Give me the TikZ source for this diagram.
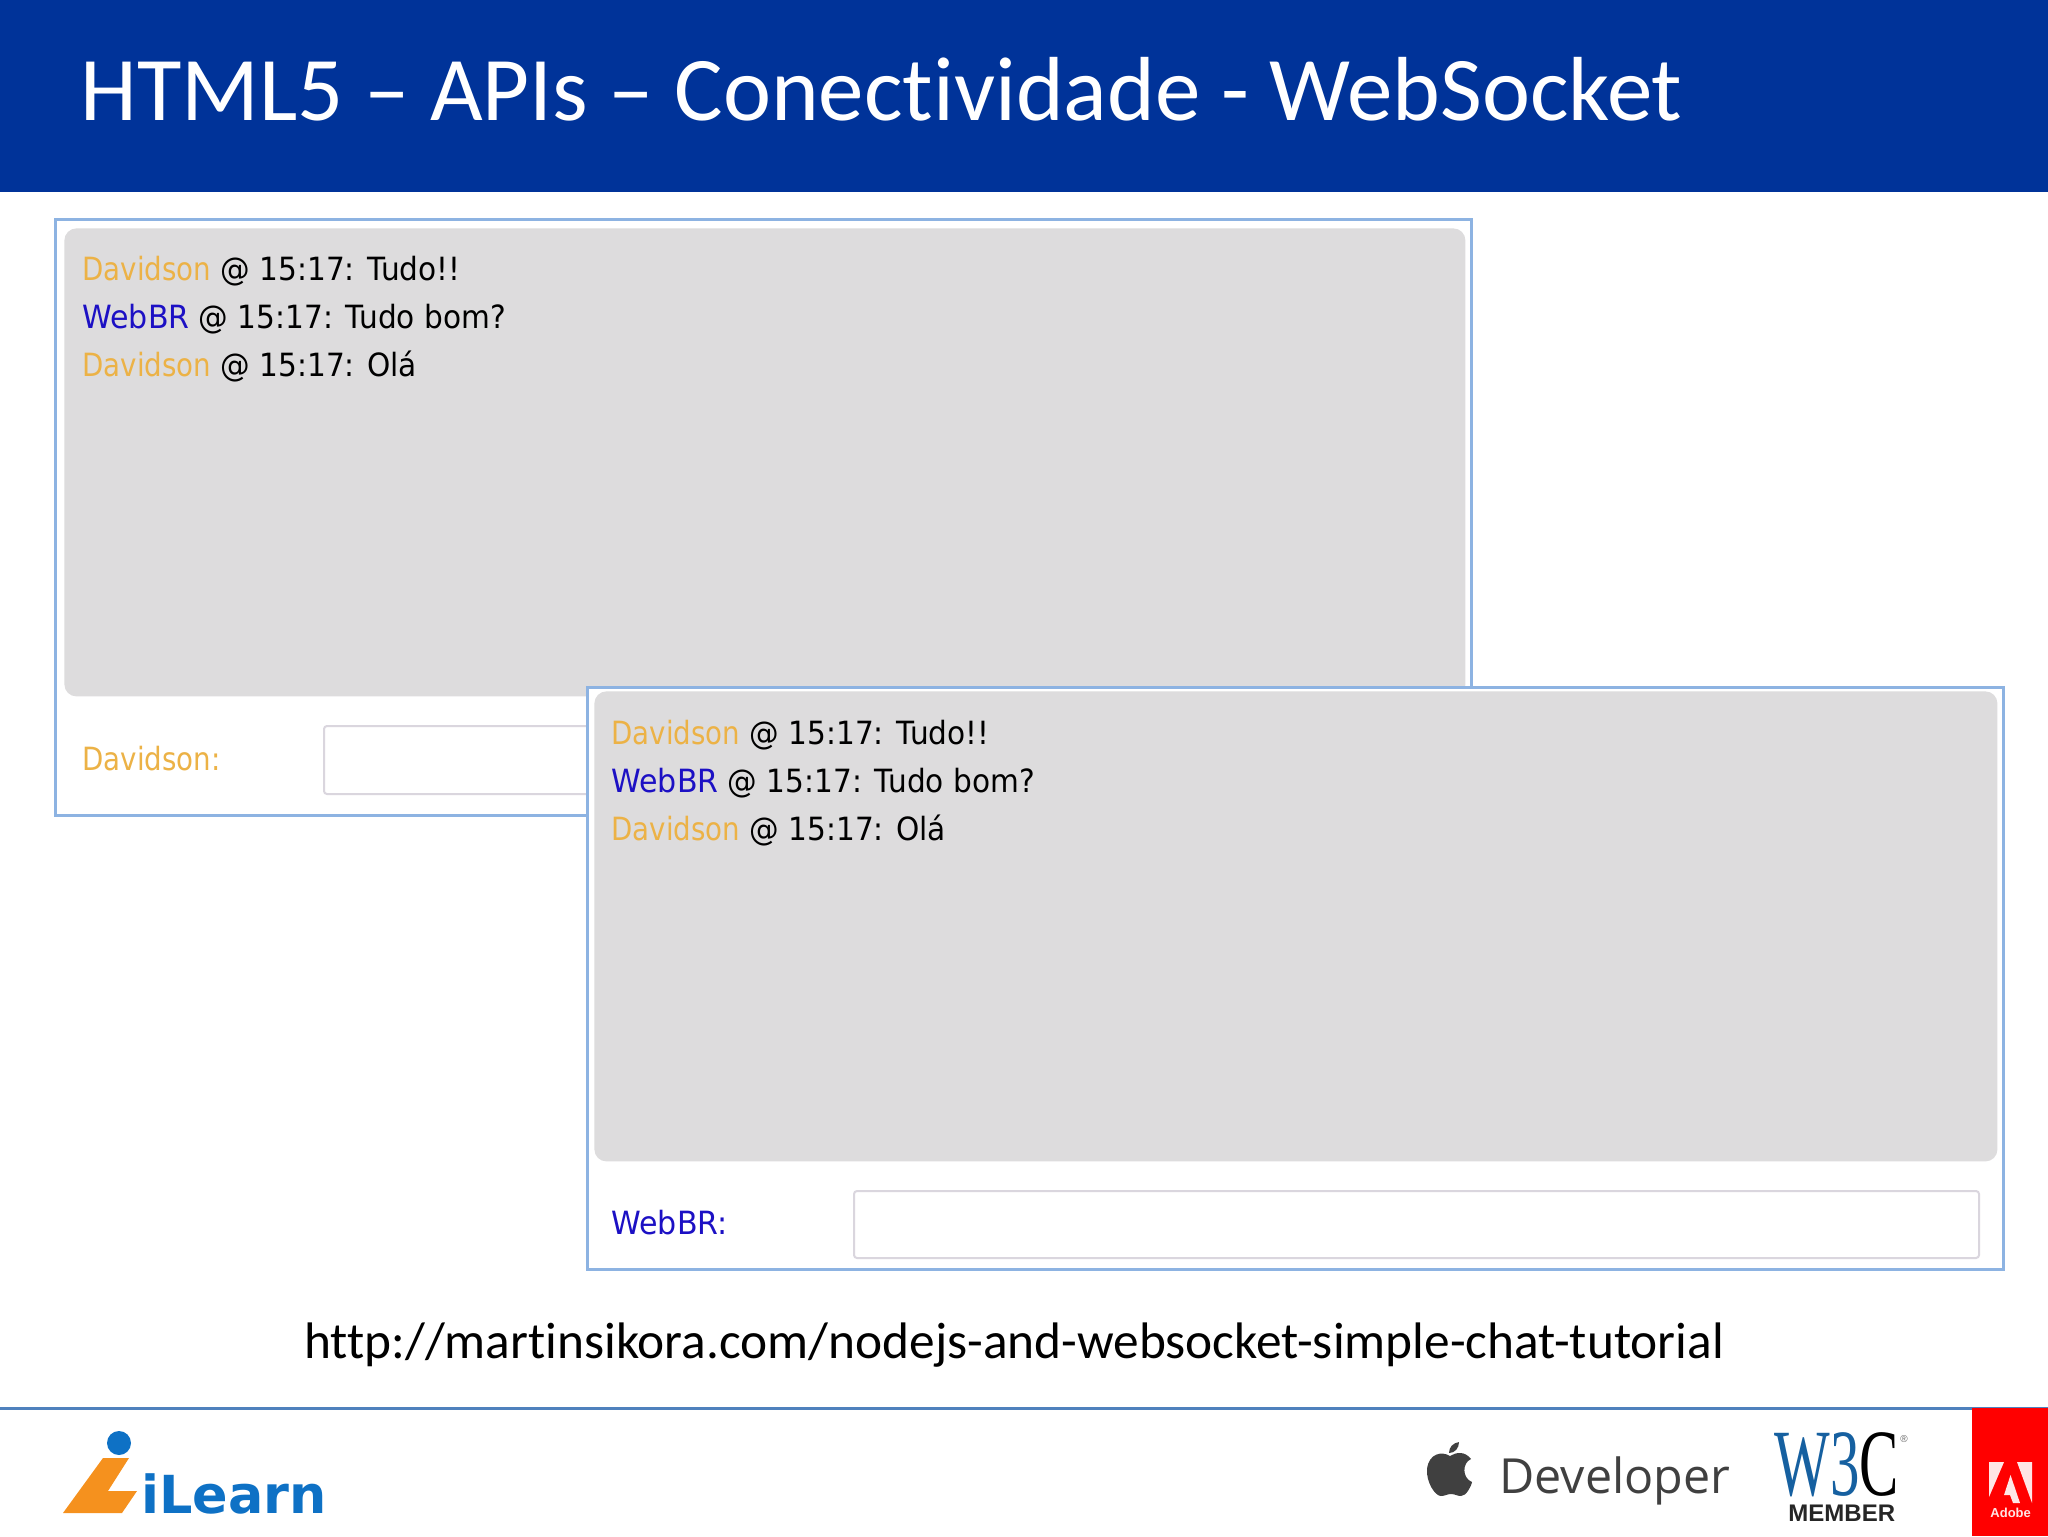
\documentclass[tikz,border=0pt]{standalone}
\usepackage{fontspec}
\setmainfont[Ligatures=NoCommon]{Carlito}
\newfontfamily\chatfont[FakeStretch=0.925]{DejaVu Sans}
\newfontfamily\dvdfont[FakeStretch=0.865]{DejaVu Sans}
\newfontfamily\wbrfont[FakeStretch=0.94]{DejaVu Sans}
\newfontfamily\boldlogo{DejaVu Sans Bold}
\newfontfamily\devfont{Open Sans}
\newfontfamily\wfont[FakeStretch=0.62]{Liberation Serif}
\newfontfamily\memberfont{Liberation Sans}
\usetikzlibrary{positioning}
\definecolor{headerblue}{RGB}{0,51,153}
\definecolor{framecol}{RGB}{141,179,226}
\definecolor{chatgrey}{RGB}{221,220,221}
\definecolor{inputcol}{RGB}{218,214,222}
\definecolor{footline}{RGB}{79,129,189}
\definecolor{davidcol}{RGB}{236,178,70}
\definecolor{webcol}{RGB}{28,16,196}
\definecolor{logoblue}{RGB}{14,113,197}
\definecolor{logoorange}{RGB}{245,145,30}
\definecolor{wblue}{RGB}{22,96,160}
\tikzset{
 framebox/.style={draw=framecol,line width=1.5pt,fill=white,anchor=north west,inner sep=0pt},
 chatbox/.style={fill=chatgrey,rounded corners=6pt,anchor=north west,inner sep=0pt},
 inputbox/.style={draw=inputcol,line width=1pt,fill=white,rounded corners=1.5pt,anchor=north west,inner sep=0pt},
 chatline/.style={anchor=base west,inner sep=0pt,font=\chatfont\fontsize{16}{16}\selectfont},
 plaintext/.style={anchor=base west,inner sep=0pt},
}
\newcommand{\dvd}{\textcolor{davidcol}{\dvdfont Davidson}}
\newcommand{\wbr}{\textcolor{webcol}{\wbrfont WebBR}}
\begin{document}
\begin{tikzpicture}[x=0.5pt,y=-0.5pt]
 \useasboundingbox (0,0) rectangle (2048,1536);
 % header
 \node[fill=headerblue,anchor=north west,inner sep=0pt,minimum width=1024pt,minimum height=96pt] (header) at (0,0) {};
 \node[plaintext,text=white,font=\fontsize{45.5}{45.5}\selectfont] (title) at (80,120) {HTML5 – APIs – Conectividade - WebSocket};
 % first window
 \node[framebox,minimum width=708pt,minimum height=298pt] (frameA) at (54,218) {};
 \node[chatbox,minimum width=700.5pt,minimum height=234pt] (chatA) at (64,228) {};
 \node[chatline] (lineAa) at (82,280) {\dvd{} @ 15:17: Tudo!!};
 \node[chatline] (lineAb) at (82,328) {\wbr{} @ 15:17: Tudo bom?};
 \node[chatline] (lineAc) at (82,376) {\dvd{} @ 15:17: Olá};
 \node[chatline,font=\dvdfont\fontsize{16}{16}\selectfont,text=davidcol] (nameA) at (82,770) {Davidson:};
 \node[inputbox,minimum width=300pt,minimum height=34pt] (inputA) at (323,725) {};
 % second window
 \node[framebox,minimum width=708pt,minimum height=291pt] (frameB) at (586,686) {};
 \node[chatbox,minimum width=701.5pt,minimum height=235pt] (chatB) at (594,691) {};
 \node[chatline] (lineBa) at (611,744) {\dvd{} @ 15:17: Tudo!!};
 \node[chatline] (lineBb) at (611,792) {\wbr{} @ 15:17: Tudo bom?};
 \node[chatline] (lineBc) at (611,840) {\dvd{} @ 15:17: Olá};
 \node[chatline,font=\wbrfont\fontsize{16}{16}\selectfont,text=webcol] (nameB) at (611,1234) {WebBR:};
 \node[inputbox,minimum width=562.5pt,minimum height=33.5pt] (inputB) at (853,1190) {};
 % link
 \node[plaintext,font=\fontsize{25.67}{25.67}\selectfont] (link) at (304,1358) {http://martinsikora.com/nodejs-and-websocket-simple-chat-tutorial};
 % footer
 \draw[footline,line width=1.5pt] (0,1408) -- (2048,1408);
 % ilearn logo
 \fill[logoblue] (119,1443) circle (6pt);
 \fill[logoorange] (103,1458) -- (129,1458) -- (108,1491) -- (137,1491) -- (122,1513) -- (63,1513) -- cycle;
 \node[plaintext,text=logoblue,font=\boldlogo\fontsize{26.2}{26.2}\selectfont] (ilearn) at (141,1513) {iLearn};
 % apple logo
 \fill[black!75] (1450,1456) .. controls (1442,1451) and (1429,1453) .. (1427,1469) .. controls (1426,1482) and (1435,1496) .. (1441,1496) .. controls (1445,1496) and (1447,1494) .. (1451,1494) .. controls (1455,1494) and (1457,1496) .. (1461,1496) .. controls (1466,1496) and (1471,1487) .. (1472,1482) .. controls (1462,1478) and (1462,1463) .. (1471,1459) .. controls (1465,1451) and (1456,1452) .. (1450,1456) -- cycle;
 \fill[black!75] (1449,1453) .. controls (1449,1447) and (1453,1443) .. (1459,1442) .. controls (1459,1448) and (1455,1453) .. (1449,1453) -- cycle;
 \node[plaintext,text=black!75,font=\devfont\fontsize{24.2}{24.2}\selectfont] (developer) at (1499,1493) {Developer};
 % w3c logo
 \node[plaintext,font=\wfont\fontsize{47.5}{47.5}\selectfont] (wthree) at (1774,1495) {\textcolor{wblue}{W3}C};
 \node[plaintext,font=\memberfont\fontsize{5}{5}\selectfont,text=black!60] (regmark) at (1900,1442) {®};
 \node[plaintext,font=\memberfont\bfseries\fontsize{12}{12}\selectfont,text=black!85] (member) at (1788,1521) {MEMBER};
 % adobe
 \node[fill=red,anchor=north west,inner sep=0pt,minimum width=38pt,minimum height=64pt] (adobebox) at (1972,1408) {};
 \fill[white!90!red] (1989,1462) -- (2004,1462) -- (1989,1497) -- cycle;
 \fill[white!90!red] (2017,1462) -- (2032,1462) -- (2032,1503) -- cycle;
 \fill[white!90!red] (2010.5,1475) -- (2020,1503) -- (2013,1503) -- (2010,1495) -- (2004,1495) -- cycle;
 \node[plaintext,text=white!90!red,font=\memberfont\bfseries\fontsize{6.5}{6.5}\selectfont] (adobetxt) at (1990,1517) {Adobe};
\end{tikzpicture}
\end{document}
